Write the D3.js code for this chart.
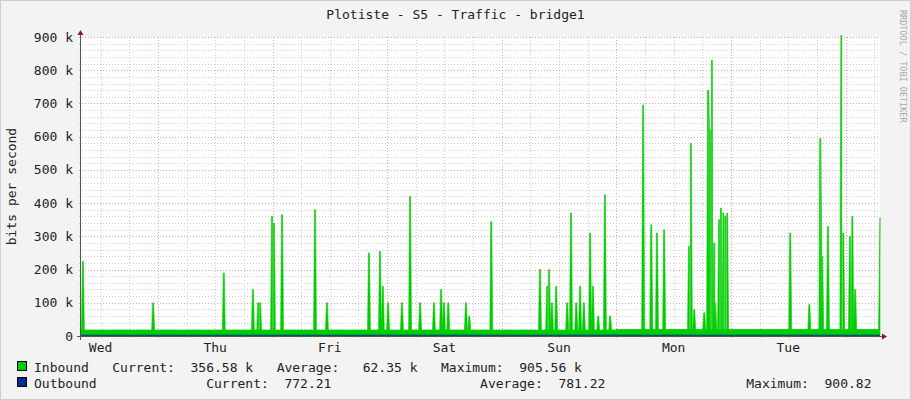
<!DOCTYPE html>
<html><head><meta charset="utf-8">
<script src="https://cdn.jsdelivr.net/npm/d3@7"></script>
<style>body{margin:0;background:#fff}svg text{font-family:"DejaVu Sans Mono",monospace}</style>
</head><body>
<script>
// hours since graph start (Wed 07:54), value in bits/s
const startOffset = 7.9;           // hours after Wed 00:00
const spanHours = 167.3;
const days = ["Wed", "Thu", "Fri", "Sat", "Sun", "Mon", "Tue"];
const yTicks = [0, 100e3, 200e3, 300e3, 400e3, 500e3, 600e3, 700e3, 800e3, 900e3];
const baseBefore = 18e3, baseAfter = 20e3, baseSwitch = 112;
const spikeHours = [0.4, 15.1, 29.9, 36.0, 37.1, 37.5, 40.0, 40.4, 42.1, 49.0, 51.5, 60.3, 62.6, 63.2, 64.3,
  67.2, 68.9, 71.0, 73.9, 75.4, 76.0, 76.9, 80.6, 81.3, 85.9, 96.1, 97.6, 98.0, 98.6, 99.5, 101.8, 102.6,
  103.7, 104.5, 105.3, 106.6, 107.2, 108.3, 109.7, 110.8, 117.7, 119.4, 120.6, 122.1, 127.3, 127.7, 128.4,
  130.5, 131.3, 131.7, 132.1, 132.6, 132.8, 133.6, 134.0, 134.5, 134.9, 135.3, 148.5, 152.5, 154.8, 155.2,
  156.4, 159.2, 159.6, 161.0, 161.5, 162.1];
const spikeValues = [225, 100, 190, 140, 100, 100, 360, 340, 365, 380, 100, 250, 255, 150, 100,
  100, 420, 100, 100, 140, 100, 100, 100, 60, 345, 200, 150, 200, 100, 150, 100, 370,
  100, 150, 100, 310, 150, 60, 425, 60, 695, 335, 310, 320, 270, 580, 80,
  70, 740, 620, 830, 280, 100, 350, 385, 370, 360, 370, 310, 95, 595, 240,
  330, 905, 310, 300, 360, 140].map(v => v * 1e3);
const lastValue = 356.58e3;

const W = 911, H = 400, L = 81, R = 880, T = 37, B = 336;
const FS = 13;
const svg = d3.select("body").append("svg").attr("width", W).attr("height", H);
svg.append("rect").attr("width", W).attr("height", H).attr("fill", "#f3f3f3");
svg.append("rect").attr("x", 0.5).attr("y", 0.5).attr("width", W - 1).attr("height", H - 1)
  .attr("fill", "none").attr("stroke", "#cfcfcf");
svg.append("rect").attr("x", L).attr("y", T).attr("width", R - L).attr("height", B - T).attr("fill", "#fff");

const x = d3.scaleLinear().domain([0, spanHours]).range([L, R]);
const y = d3.scaleLinear().domain([0, 900e3]).range([B, T]);

// grid
const g = svg.append("g").attr("shape-rendering", "crispEdges");
for (let h = -startOffset + 6; h < spanHours; h += 6) {
  if (h <= 0) continue;
  const major = Math.abs(((h + startOffset) % 24)) < 0.01;
  g.append("line").attr("x1", Math.round(x(h)) + .5).attr("x2", Math.round(x(h)) + .5).attr("y1", T).attr("y2", B + 4)
    .attr("stroke", major ? "#f5a0a0" : "#d0d0d0").attr("stroke-dasharray", "1,2");
}
for (let v = 20e3; v <= 900e3; v += 20e3) {
  const major = v % 100e3 === 0;
  g.append("line").attr("x1", L - 2).attr("x2", R).attr("y1", Math.round(y(v)) + .5).attr("y2", Math.round(y(v)) + .5)
    .attr("stroke", major ? "#f5a0a0" : "#d0d0d0").attr("stroke-dasharray", "1,2");
}

// data series: each spike is a narrow flat-topped peak over the baseline
const pts = [];
const base = h => h < baseSwitch ? baseBefore : baseAfter;
pts.push([0, base(0)]);
spikeHours.forEach((h, i) => {
  pts.push([h - 0.3, base(h)]);
  pts.push([h - 0.1, spikeValues[i]]);
  pts.push([h + 0.1, spikeValues[i]]);
  pts.push([h + 0.3, base(h)]);
});
pts.push([baseSwitch - 0.01, baseBefore], [baseSwitch, baseAfter]);
pts.sort((a, b) => a[0] - b[0]);
pts.push([spanHours - 0.3, baseAfter], [spanHours, lastValue]);

const area = d3.area().x(d => x(d[0])).y0(y(0)).y1(d => y(d[1]));
svg.append("path").datum(pts).attr("d", area).attr("fill", "#00cc00")
  .attr("stroke", "#00cc00").attr("stroke-width", 0.6);
svg.append("line").attr("x1", L).attr("x2", R).attr("y1", y(780) - 0.5).attr("y2", y(780) - 0.5)
  .attr("stroke", "#002a97").attr("stroke-width", 1);

// axes
svg.append("line").attr("x1", L - 0.5).attr("x2", L - 0.5).attr("y1", B + 4).attr("y2", T - 4).attr("stroke", "#555");
svg.append("path").attr("d", `M${L - 3.5},${T - 2}L${L - 0.5},${T - 7}L${L + 2.5},${T - 2}Z`).attr("fill", "#8b1a1a");
svg.append("line").attr("x1", L - 4).attr("x2", R + 3).attr("y1", B + 0.5).attr("y2", B + 0.5).attr("stroke", "#555");
svg.append("path").attr("d", `M${R + 2},${B - 2.5}L${R + 7},${B + 0.5}L${R + 2},${B + 3.5}Z`).attr("fill", "#8b1a1a");

yTicks.forEach(v => {
  svg.append("text").attr("x", L - 8).attr("y", y(v) + 4.5).attr("text-anchor", "end")
    .attr("font-size", FS).attr("fill", "#222").text(v === 0 ? "0" : (v / 1e3) + " k");
});
days.forEach((d, i) => {
  const h = i * 24 + 12 - startOffset;
  svg.append("text").attr("x", x(h)).attr("y", B + 16).attr("text-anchor", "middle")
    .attr("font-size", FS).attr("fill", "#222").text(d);
});

svg.append("text").attr("x", W / 2).attr("y", 19).attr("text-anchor", "middle")
  .attr("font-size", FS).attr("fill", "#222").text("Plotiste - S5 - Traffic - bridge1");
svg.append("text").attr("transform", `translate(16,${(T + B) / 2}) rotate(-90)`).attr("text-anchor", "middle")
  .attr("font-size", FS).attr("fill", "#222").text("bits per second");
svg.append("text").attr("transform", `translate(900,10) rotate(90)`).attr("font-size", 8.5)
  .attr("fill", "#aaa").text("RRDTOOL / TOBI OETIKER");

// legend
const sp = n => " ".repeat(n);
const leg = [
  {c: "#00cc00", y: 372, t: "Inbound" + sp(3) + "Current:  356.58 k   Average:   62.35 k   Maximum:  905.56 k"},
  {c: "#002a97", y: 388, t: "Outbound" + sp(14) + "Current:  772.21" + sp(19) + "Average:  781.22" + sp(18) + "Maximum:  900.82"}
];
leg.forEach(l => {
  svg.append("rect").attr("x", 17.5).attr("y", l.y - 10.5).attr("width", 9).attr("height", 9)
    .attr("fill", l.c).attr("stroke", "#000");
  svg.append("text").attr("x", 34).attr("y", l.y).attr("font-size", FS).attr("fill", "#222")
    .attr("xml:space", "preserve").style("white-space", "pre").text(l.t);
});
</script>
</body></html>
